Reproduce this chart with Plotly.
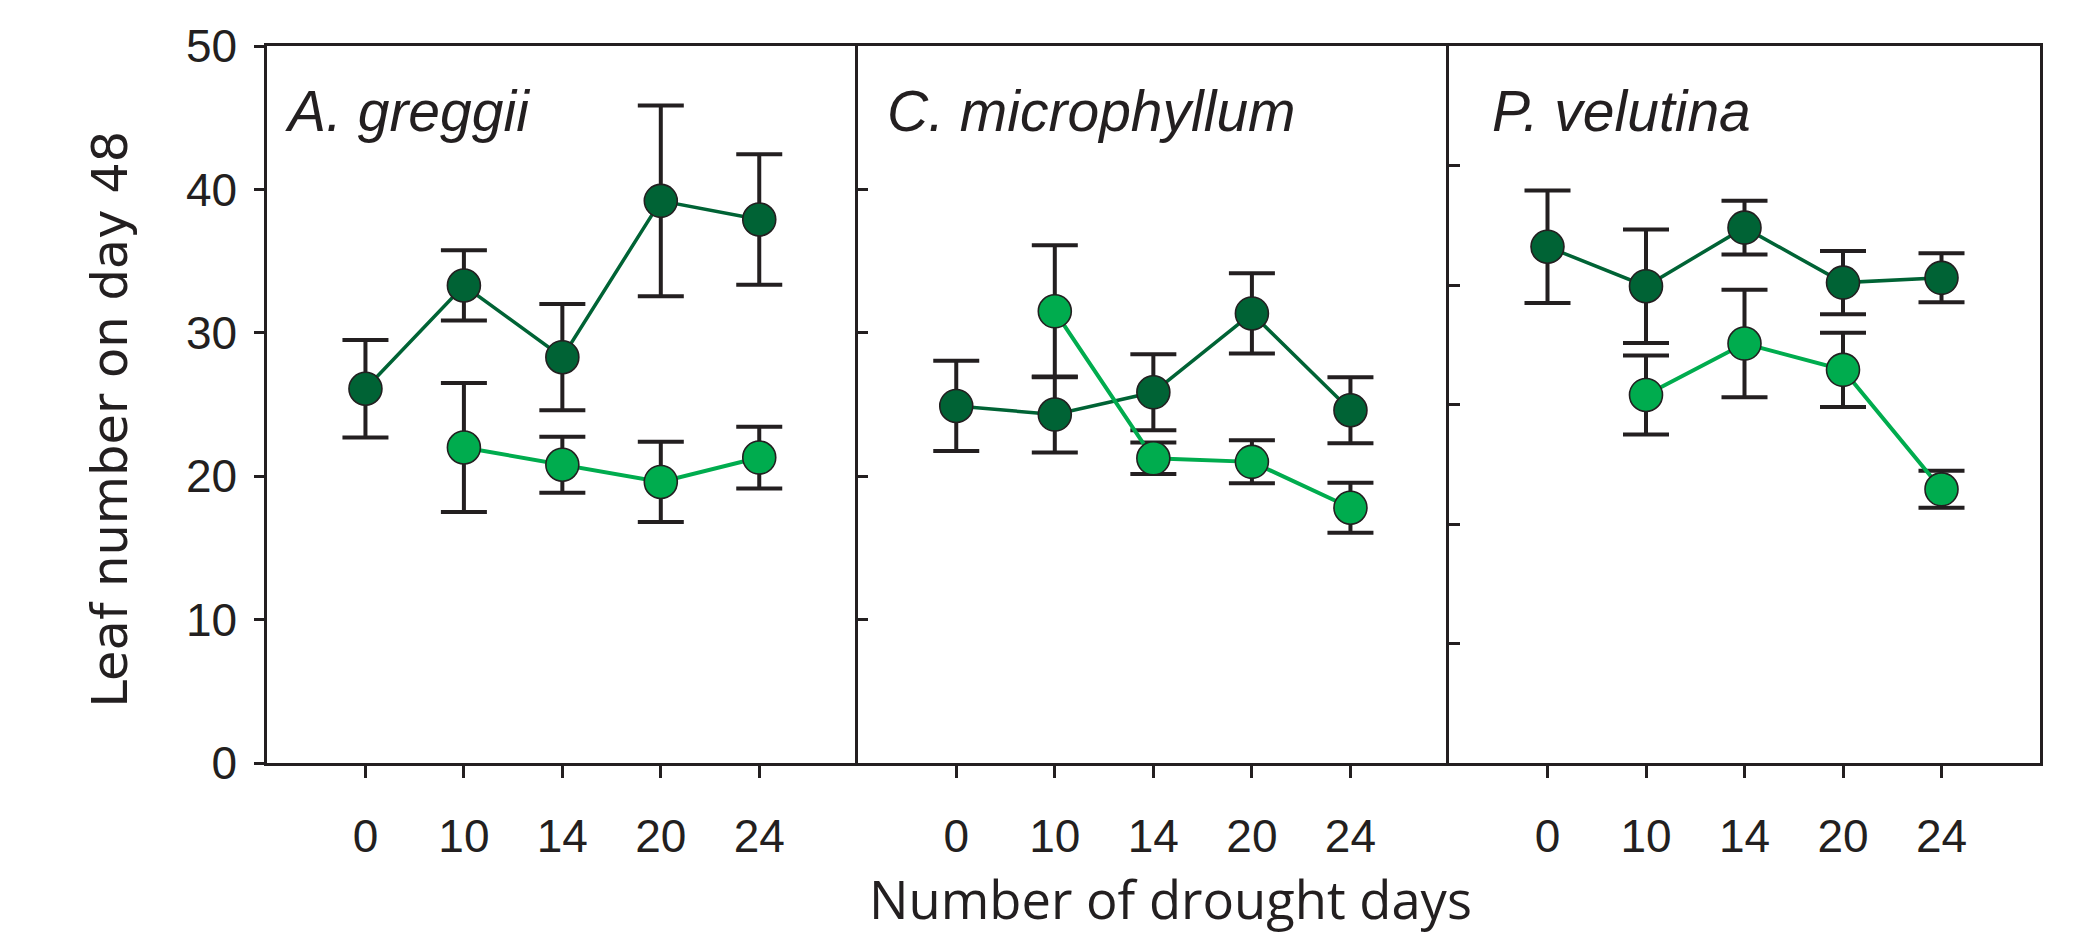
import plotly.graph_objects as go

# ---------------- data ----------------
days = ["0", "10", "14", "20", "24"]
species = ["A. greggii", "C. microphyllum", "P. velutina"]

greggii_dark_mean = [26.1, 33.3, 28.3, 39.2, 37.9]
greggii_dark_se = [3.4, 2.45, 3.7, 6.65, 4.55]
greggii_light_mean = [None, 22.0, 20.8, 19.6, 21.3]
greggii_light_se = [0, 4.5, 1.95, 2.8, 2.15]

micro_dark_mean = [24.9, 24.3, 25.85, 31.35, 24.6]
micro_dark_se = [3.15, 2.65, 2.65, 2.8, 2.3]
micro_light_mean = [None, 31.5, 21.25, 21.0, 17.8]
micro_light_se = [0, 4.6, 1.1, 1.5, 1.75]

velutina_dark_mean = [43.2, 39.9, 44.8, 40.2, 40.6]
velutina_dark_se = [4.7, 4.75, 2.25, 2.65, 2.05]
velutina_light_mean = [None, 30.8, 35.1, 32.9, 22.9]
velutina_light_se = [0, 3.3, 4.5, 3.1, 1.55]

y_ranges = [[0, 50], [0, 50], [0, 60]]
y_tickvals = [[0, 10, 20, 30, 40, 50], [0, 10, 20, 30, 40, 50], [0, 10, 20, 30, 40, 50, 60]]

panels = [
    (greggii_dark_mean, greggii_dark_se, greggii_light_mean, greggii_light_se),
    (micro_dark_mean, micro_dark_se, micro_light_mean, micro_light_se),
    (velutina_dark_mean, velutina_dark_se, velutina_light_mean, velutina_light_se),
]

# ---------------- style ----------------
DARK = "#006335"
LIGHT = "#00AC4E"
INK = "#231F20"
TICK_FONT = "Liberation Sans Narrow, Arial Narrow, Liberation Sans, Arial, sans-serif"

# the page body adds an 8 px offset; size the figure so the plot lands on
# the reference's pixel positions inside the 2093x936 window
OFF = 8
W, H = 2093 - OFF, 936 - OFF
PLOT_L, PLOT_T, PLOT_R, PLOT_B = 267, 43, 2040, 762.7   # page pixels
L = PLOT_L - OFF
T = PLOT_T - OFF
R = W - (PLOT_R - OFF)
B = H - (PLOT_B - OFF)
PW = W - L - R
PH = H - T - B

fig = go.Figure()

for i, (dm, ds, lm, ls) in enumerate(panels):
    xa = "x" if i == 0 else f"x{i+1}"
    ya = "y" if i == 0 else f"y{i+1}"
    for mean, se, col, lw in ((dm, ds, DARK, 3.5), (lm, ls, LIGHT, 4)):
        fig.add_trace(go.Scatter(
            x=days, y=mean, xaxis=xa, yaxis=ya,
            mode="lines+markers",
            line=dict(color=col, width=lw),
            marker=dict(size=33, color=col, line=dict(color=INK, width=1.6)),
            error_y=dict(type="data", array=se, visible=True,
                         color=INK, thickness=4, width=23),
            connectgaps=False, showlegend=False, hoverinfo="skip",
        ))

bounds = [0, 590.7 / PW, (590.7 + 591.3) / PW, 1.0]

layout = dict(
    width=W, height=H,
    margin=dict(l=L, r=R, t=T, b=B, pad=0),
    paper_bgcolor="white", plot_bgcolor="white",
    showlegend=False,
)

for i in range(3):
    xk = "xaxis" if i == 0 else f"xaxis{i+1}"
    yk = "yaxis" if i == 0 else f"yaxis{i+1}"
    xa = "x" if i == 0 else f"x{i+1}"
    ya = "y" if i == 0 else f"y{i+1}"
    layout[xk] = dict(
        domain=[bounds[i], bounds[i + 1]], anchor=ya,
        type="category", categoryorder="array", categoryarray=days,
        range=[-1, 5],
        showline=True, linecolor=INK, linewidth=2.5, mirror=True,
        ticks="outside", ticklen=12, tickwidth=2.5, tickcolor=INK,
        showgrid=False, zeroline=False,
        tickfont=dict(family=TICK_FONT, size=46, color=INK),
        ticklabelstandoff=19,
    )
    ydict = dict(
        domain=[0, 1], anchor=xa,
        range=y_ranges[i], tickvals=y_tickvals[i],
        showline=True, linecolor=INK, linewidth=2.5,
        showgrid=False, zeroline=False,
        tickwidth=2.5, tickcolor=INK,
    )
    if i == 0:
        ydict.update(ticks="outside", ticklen=10, showticklabels=True,
                     tickfont=dict(family=TICK_FONT, size=46, color=INK),
                     ticklabelstandoff=8)
    else:
        ydict.update(ticks="inside", ticklen=11, showticklabels=False)
    if i == 2:
        ydict.update(mirror=True)
    layout[yk] = ydict

fig.update_layout(**layout)

def px_x(px):
    """page pixel x -> paper coordinate"""
    return (px - OFF - L) / PW

def px_y(py):
    """page pixel y -> paper coordinate"""
    return (T + PH - (py - OFF)) / PH

title_left = [283, 885, 1490]
for i, name in enumerate(species):
    fig.add_annotation(
        text=name, xref="paper", yref="paper",
        x=px_x(title_left[i]), y=px_y(108),
        xanchor="left", yanchor="middle", showarrow=False,
        font=dict(family="Liberation Sans, Arial, sans-serif", size=57,
                  color=INK, style="italic"),
    )

fig.add_annotation(
    text="Leaf number on day 48", xref="paper", yref="paper",
    x=px_x(110), y=px_y(418), textangle=-90,
    xanchor="center", yanchor="middle", showarrow=False,
    font=dict(family="DejaVu Sans, sans-serif", size=49.5, color=INK),
)

fig.add_annotation(
    text="Number of drought days", xref="paper", yref="paper",
    x=px_x(1170), y=px_y(899),
    xanchor="center", yanchor="middle", showarrow=False,
    font=dict(family="Open Sans, Noto Sans, sans-serif", size=52.5, color=INK),
)

fig.write_html("out.html")
